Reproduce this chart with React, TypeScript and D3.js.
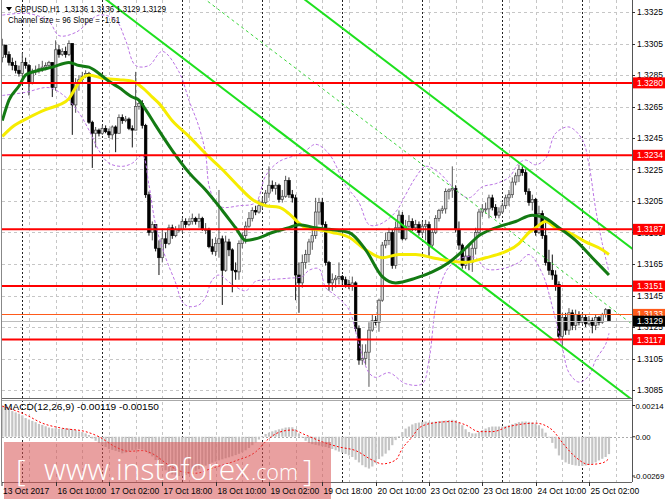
import React from 'react';
import * as d3 from 'd3';

const W = 665;
const H = 499;

// frame of the two panes (pixels)
const PLOT_L = 2;
const AXIS_X = 632;
const MAIN_BOTTOM = 398;
const MACD_TOP = 401;
const MACD_BOTTOM = 482;

const symbolTitle = 'GBPUSD,H1  1.3136 1.3136 1.3129 1.3129';
const channelTitle = 'Channel size = 96 Slope = -1.61';
const macdTitle = 'MACD(12,26,9) -0.00119 -0.00150';

// H1 candles, bar 0 = 13 Oct 18:00 ... bar 182 = 25 Oct 08:00
const firstOpen = 1.3296;
const closes = [
  1.3304, 1.3298, 1.3293, 1.3291, 1.3288, 1.3286, 1.3293, 1.3291, 1.3280, 1.3287,
  1.3288, 1.3289, 1.3290, 1.3291, 1.3293, 1.3277, 1.3301, 1.3298, 1.3300, 1.3298,
  1.3305, 1.3266, 1.3280, 1.3282, 1.3284, 1.3286, 1.3255, 1.3248, 1.3250, 1.3248,
  1.3251, 1.3249, 1.3247, 1.3252, 1.3248, 1.3258, 1.3256, 1.3257, 1.3251, 1.3250,
  1.3265, 1.3267, 1.3253, 1.3209, 1.3185, 1.3190, 1.3175, 1.3169, 1.3181, 1.3178,
  1.3188, 1.3183, 1.3187, 1.3187, 1.3192, 1.3190, 1.3192, 1.3194, 1.3192, 1.3194,
  1.3187, 1.3187, 1.3176, 1.3173, 1.3178, 1.3181, 1.3161, 1.3179, 1.3174, 1.3161,
  1.3160, 1.3178, 1.3183, 1.3189, 1.3194, 1.3199, 1.3198, 1.3202, 1.3204, 1.3210,
  1.3215, 1.3213, 1.3215, 1.3206, 1.3208, 1.3218, 1.3209, 1.3207, 1.3158, 1.3153,
  1.3166, 1.3171, 1.3179, 1.3183, 1.3198, 1.3204, 1.3190, 1.3166, 1.3153, 1.3155,
  1.3156, 1.3157, 1.3155, 1.3152, 1.3151, 1.3153, 1.3124, 1.3104, 1.3105, 1.3109,
  1.3123, 1.3129, 1.3128, 1.3142, 1.3177, 1.3180, 1.3185, 1.3164, 1.3188, 1.3196,
  1.3181, 1.3189, 1.3192, 1.3188, 1.3190, 1.3185, 1.3189, 1.3190, 1.3177, 1.3185,
  1.3194, 1.3199, 1.3200, 1.3211, 1.3212, 1.3213, 1.3187, 1.3177, 1.3164, 1.3170,
  1.3166, 1.3175, 1.3185, 1.3198, 1.3200, 1.3200, 1.3207, 1.3201, 1.3196, 1.3198,
  1.3202, 1.3207, 1.3209, 1.3217, 1.3221, 1.3225, 1.3223, 1.3211, 1.3204, 1.3206,
  1.3185, 1.3197, 1.3183, 1.3166, 1.3161, 1.3158, 1.3152, 1.3119, 1.3131, 1.3123,
  1.3134, 1.3126, 1.3133, 1.3128, 1.3131, 1.3127, 1.3129, 1.3126, 1.3131, 1.3128,
  1.3133, 1.3136, 1.3129,
];
const highs = [
  1.3308, 1.3304, 1.3300, 1.3296, 1.3294, 1.3291, 1.3299, 1.3296, 1.3292, 1.3289,
  1.3291, 1.3292, 1.3294, 1.3293, 1.3294, 1.3293, 1.3307, 1.3304, 1.3302, 1.3303,
  1.3307, 1.3305, 1.3283, 1.3285, 1.3287, 1.3288, 1.3287, 1.3256, 1.3252, 1.3251,
  1.3253, 1.3253, 1.3251, 1.3253, 1.3253, 1.3260, 1.3260, 1.3259, 1.3258, 1.3253,
  1.3287, 1.3269, 1.3269, 1.3254, 1.3211, 1.3192, 1.3190, 1.3180, 1.3187, 1.3185,
  1.3190, 1.3190, 1.3189, 1.3190, 1.3194, 1.3194, 1.3194, 1.3197, 1.3195, 1.3197,
  1.3195, 1.3191, 1.3188, 1.3181, 1.3182, 1.3212, 1.3183, 1.3183, 1.3181, 1.3175,
  1.3166, 1.3180, 1.3185, 1.3192, 1.3198, 1.3201, 1.3202, 1.3206, 1.3207, 1.3212,
  1.3227, 1.3218, 1.3217, 1.3216, 1.3212, 1.3221, 1.3220, 1.3212, 1.3209, 1.3166,
  1.3171, 1.3174, 1.3181, 1.3187, 1.3207, 1.3207, 1.3207, 1.3192, 1.3167, 1.3159,
  1.3158, 1.3166, 1.3158, 1.3157, 1.3155, 1.3157, 1.3154, 1.3126, 1.3114, 1.3114,
  1.3128, 1.3133, 1.3132, 1.3143, 1.3179, 1.3185, 1.3188, 1.3187, 1.3192, 1.3199,
  1.3198, 1.3193, 1.3196, 1.3194, 1.3193, 1.3192, 1.3192, 1.3193, 1.3192, 1.3187,
  1.3196, 1.3200, 1.3202, 1.3213, 1.3213, 1.3227, 1.3215, 1.3192, 1.3178, 1.3174,
  1.3177, 1.3178, 1.3188, 1.3200, 1.3203, 1.3204, 1.3209, 1.3209, 1.3203, 1.3201,
  1.3204, 1.3209, 1.3212, 1.3220, 1.3223, 1.3228, 1.3227, 1.3225, 1.3213, 1.3209,
  1.3207, 1.3202, 1.3199, 1.3193, 1.3174, 1.3171, 1.3161, 1.3154, 1.3134, 1.3134,
  1.3137, 1.3136, 1.3136, 1.3135, 1.3134, 1.3133, 1.3132, 1.3131, 1.3133, 1.3132,
  1.3134, 1.3137, 1.3136,
];
const lows = [
  1.3293, 1.3296, 1.3291, 1.3288, 1.3286, 1.3284, 1.3283, 1.3289, 1.3272, 1.3279,
  1.3285, 1.3286, 1.3287, 1.3288, 1.3289, 1.3271, 1.3275, 1.3296, 1.3297, 1.3296,
  1.3297, 1.3247, 1.3261, 1.3275, 1.3280, 1.3283, 1.3254, 1.3226, 1.3239, 1.3246,
  1.3247, 1.3248, 1.3245, 1.3244, 1.3236, 1.3248, 1.3254, 1.3255, 1.3250, 1.3239,
  1.3250, 1.3263, 1.3251, 1.3207, 1.3183, 1.3180, 1.3173, 1.3158, 1.3166, 1.3175,
  1.3177, 1.3181, 1.3182, 1.3185, 1.3185, 1.3188, 1.3189, 1.3190, 1.3190, 1.3188,
  1.3186, 1.3184, 1.3175, 1.3171, 1.3170, 1.3169, 1.3139, 1.3160, 1.3170, 1.3147,
  1.3155, 1.3155, 1.3175, 1.3178, 1.3188, 1.3192, 1.3196, 1.3197, 1.3200, 1.3202,
  1.3207, 1.3211, 1.3209, 1.3204, 1.3204, 1.3207, 1.3207, 1.3204, 1.3142, 1.3134,
  1.3150, 1.3162, 1.3166, 1.3174, 1.3181, 1.3190, 1.3188, 1.3164, 1.3148, 1.3148,
  1.3150, 1.3152, 1.3151, 1.3150, 1.3149, 1.3148, 1.3122, 1.3101, 1.3101, 1.3101,
  1.3087, 1.3122, 1.3126, 1.3122, 1.3141, 1.3175, 1.3177, 1.3162, 1.3162, 1.3185,
  1.3180, 1.3180, 1.3186, 1.3186, 1.3186, 1.3183, 1.3183, 1.3180, 1.3169, 1.3175,
  1.3184, 1.3192, 1.3197, 1.3197, 1.3206, 1.3207, 1.3185, 1.3174, 1.3162, 1.3162,
  1.3161, 1.3160, 1.3171, 1.3183, 1.3195, 1.3197, 1.3194, 1.3199, 1.3194, 1.3194,
  1.3197, 1.3200, 1.3202, 1.3207, 1.3215, 1.3217, 1.3221, 1.3209, 1.3202, 1.3199,
  1.3183, 1.3184, 1.3181, 1.3164, 1.3158, 1.3155, 1.3148, 1.3117, 1.3112, 1.3120,
  1.3120, 1.3123, 1.3123, 1.3126, 1.3127, 1.3125, 1.3126, 1.3121, 1.3123, 1.3126,
  1.3127, 1.3131, 1.3129,
];

// moving averages and bands, read as [bar, price]
const maGreen: [number, number][] = [
  [0, 1.3256], [2, 1.3269], [5, 1.3278], [7, 1.3285], [11, 1.3288], [15, 1.3290], [20, 1.3293],
  [23, 1.3291], [26, 1.3290], [29, 1.3286], [32, 1.3281], [35, 1.3277], [39, 1.3271], [41, 1.3269],
  [43, 1.3263], [46, 1.3253], [51, 1.3237], [56, 1.3223], [61, 1.3212], [66, 1.3199], [70, 1.3188],
  [73, 1.3180], [76, 1.3181], [81, 1.3185], [86, 1.3188], [89, 1.3190], [94, 1.3188], [98, 1.3187],
  [104, 1.3185], [109, 1.3174], [114, 1.3157], [118, 1.3153], [124, 1.3156], [129, 1.3160],
  [134, 1.3166], [139, 1.3175], [143, 1.3183], [148, 1.3188], [154, 1.3192], [159, 1.3196],
  [162, 1.3195], [167, 1.3188], [172, 1.3180], [177, 1.3169], [182, 1.3158],
];
const maYellow: [number, number][] = [
  [0, 1.3246], [3, 1.3252], [8, 1.3258], [13, 1.3263], [17, 1.3266], [20, 1.3270], [22, 1.3277],
  [24, 1.3283], [26, 1.3285], [30, 1.3283], [35, 1.3282], [39, 1.3281], [42, 1.3277], [45, 1.3271],
  [47, 1.3267], [51, 1.3256], [56, 1.3246], [61, 1.3235], [66, 1.3225], [71, 1.3214], [75, 1.3206],
  [79, 1.3202], [83, 1.3201], [86, 1.3197], [89, 1.3191], [91, 1.3188], [94, 1.3187], [99, 1.3185],
  [104, 1.3182], [109, 1.3174], [114, 1.3169], [119, 1.3171], [124, 1.3171], [129, 1.3169],
  [134, 1.3167], [139, 1.3166], [145, 1.3169], [150, 1.3172], [155, 1.3178], [158, 1.3185],
  [160, 1.3188], [163, 1.3192], [166, 1.3188], [170, 1.3185], [175, 1.3179], [180, 1.3174], [182, 1.3171],
];
const bandUpper: [number, number][] = [
  [0, 1.3323], [8, 1.3324], [14, 1.3319], [17, 1.3310], [22, 1.3312], [29, 1.3323], [34, 1.3320],
  [37, 1.3307], [40, 1.3291], [44, 1.3291], [48, 1.3300], [53, 1.3287], [56, 1.3269], [59, 1.3252],
  [61, 1.3235], [62, 1.3215], [64, 1.3204], [66, 1.3201], [71, 1.3202], [76, 1.3204], [79, 1.3221],
  [83, 1.3230], [88, 1.3234], [91, 1.3237], [94, 1.3241], [98, 1.3235], [103, 1.3215], [107, 1.3204],
  [110, 1.3190], [113, 1.3190], [118, 1.3198], [121, 1.3209], [124, 1.3220], [127, 1.3227],
  [131, 1.3223], [136, 1.3212], [140, 1.3207], [144, 1.3214], [148, 1.3216], [152, 1.3220],
  [155, 1.3229], [157, 1.3231], [160, 1.3228], [163, 1.3232], [166, 1.3248], [170, 1.3252],
  [174, 1.3244], [176, 1.3228], [178, 1.3200], [180, 1.3178], [182, 1.3160],
];
const bandLower: [number, number][] = [
  [0, 1.3272], [7, 1.3274], [14, 1.3277], [19, 1.3271], [23, 1.3261], [26, 1.3250], [29, 1.3237],
  [32, 1.3229], [36, 1.3227], [39, 1.3229], [42, 1.3234], [44, 1.3215], [46, 1.3190], [49, 1.3169],
  [52, 1.3153], [54, 1.3141], [56, 1.3138], [59, 1.3139], [61, 1.3144], [63, 1.3155], [65, 1.3158],
  [69, 1.3152], [73, 1.3148], [76, 1.3154], [80, 1.3155], [86, 1.3156], [90, 1.3157], [92, 1.3161],
  [95, 1.3162], [97, 1.3150], [100, 1.3145], [104, 1.3136], [107, 1.3114], [110, 1.3096],
  [112, 1.3093], [116, 1.3096], [121, 1.3089], [126, 1.3089], [128, 1.3104], [130, 1.3138],
  [132, 1.3155], [134, 1.3163], [138, 1.3169], [142, 1.3169], [145, 1.3162], [150, 1.3162],
  [155, 1.3166], [158, 1.3171], [162, 1.3159], [165, 1.3138], [168, 1.3112], [170, 1.3096],
  [173, 1.3090], [176, 1.3094], [178, 1.3104], [181, 1.3114], [182, 1.3121],
];

// linear regression channel: mid line price at bar 0, slope per bar, half width
const channelMidAtStart = 1.3431;
const channelSlope = -0.000161;
const channelHalf = 0.0048;

const priceTicks = [1.3325, 1.3305, 1.3285, 1.3265, 1.3245, 1.3225, 1.3205, 1.3185, 1.3165, 1.3145, 1.3125, 1.3105, 1.3085];
const levels = [1.328, 1.3234, 1.3187, 1.3151, 1.3117];
const askPrice = 1.3133;
const bidPrice = 1.3129;

const macdHist = [
  0.00214, 0.00204, 0.0019, 0.00176, 0.00167, 0.00158, 0.00146, 0.00128, 0.00118, 0.00109,
  0.001, 0.00088, 0.00081, 0.00072, 0.00063, 0.00058, 0.00058, 0.00053, 0.00056, 0.00058,
  0.00056, 0.00051, 0.00046, 0.00037, 0.00032, 0.00023, 0.00012, -0.00012, -0.00028, -0.00042,
  -0.00058, -0.0007, -0.00084, -0.0009, -0.00097, -0.00104, -0.00114, -0.00109, -0.001, -0.00093,
  -0.0009, -0.00084, -0.00088, -0.00097, -0.00115, -0.00135, -0.0016, -0.00185, -0.0021, -0.0023,
  -0.00246, -0.00258, -0.00265, -0.00269, -0.00268, -0.00262, -0.00254, -0.00244, -0.00233, -0.00222,
  -0.0021, -0.00198, -0.00188, -0.00178, -0.0017, -0.00162, -0.00155, -0.00148, -0.00141, -0.00134,
  -0.00126, -0.00117, -0.00106, -0.00093, -0.00077, -0.00058, -0.00039, -0.00019, 0.00005, 0.00019,
  0.00028, 0.00037, 0.00044, 0.00051, 0.00056, 0.00063, 0.00065, 0.00065, 0.00053, 0.00023,
  -0.00005, -0.00028, -0.00042, -0.00051, -0.00056, -0.0006, -0.00065, -0.0007, -0.00077, -0.00084,
  -0.00093, -0.00102, -0.00109, -0.00118, -0.00128, -0.00139, -0.00158, -0.00176, -0.00195, -0.00209,
  -0.00218, -0.00204, -0.00181, -0.00153, -0.00135, -0.00116, -0.00093, -0.00058, -0.00023, 0.00005,
  0.00032, 0.00056, 0.0007, 0.00084, 0.00093, 0.00097, 0.00102, 0.00104, 0.00102, 0.00102,
  0.00104, 0.00107, 0.00109, 0.00111, 0.00114, 0.00116, 0.00111, 0.00097, 0.00079, 0.00051,
  0.00032, 0.00023, 0.00023, 0.00032, 0.00046, 0.00056, 0.00065, 0.0007, 0.0007, 0.0007,
  0.0007, 0.00074, 0.00079, 0.00086, 0.00093, 0.001, 0.00104, 0.00104, 0.00102, 0.00097,
  0.00088, 0.00079, 0.00056, 0.00028, -0.00005, -0.00042, -0.00081, -0.00128, -0.00158, -0.00176,
  -0.00186, -0.00193, -0.00197, -0.002, -0.002, -0.00197, -0.00193, -0.00186, -0.00176, -0.00162,
  -0.00151, -0.00139, -0.00119,
];
const macdSignal: [number, number][] = [
  [0, 0.00209], [7, 0.00151], [12, 0.00093], [18, 0.00058], [25, 0.00035], [29, 0], [34, -0.0007],
  [38, -0.001], [42, -0.00095], [45, -0.00116], [50, -0.00195], [54, -0.0024], [58, -0.0025],
  [63, -0.00215], [70, -0.00165], [76, -0.00104], [80, -0.00012], [83, 0.0003], [87, 0.00046],
  [91, 0.00012], [96, -0.00035], [101, -0.0007], [106, -0.00095], [111, -0.0016], [114, -0.00186],
  [118, -0.0016], [120, -0.00081], [123, 0], [125, 0.0006], [129, 0.00093], [135, 0.00104],
  [139, 0.00081], [143, 0.00035], [147, 0.00035], [152, 0.0007], [160, 0.00093], [165, 0.00046],
  [168, -0.0004], [172, -0.0014], [176, -0.0019], [180, -0.0018], [182, -0.0015],
];
const macdTicks = [0.00214, 0, -0.00269];
const macdTickLabels = ['0.00214', '0.00', '-0.00269'];

const timeLabels = ['13 Oct 2017', '16 Oct 10:00', '17 Oct 02:00', '17 Oct 18:00', '18 Oct 10:00', '19 Oct 02:00',
  '19 Oct 18:00', '20 Oct 10:00', '23 Oct 02:00', '23 Oct 18:00', '24 Oct 10:00', '25 Oct 02:00'];
const timeLabelBars = [0, 16, 32, 48, 64, 80, 96, 112, 128, 144, 160, 176];
const daySeparatorBars = [6, 30, 54, 78, 102, 126, 150, 174];

const FONT = '"Liberation Sans", Arial, sans-serif';
const WM_FONT = '"Open Sans", Lato, sans-serif';

export default function App() {
  const x = d3.scaleLinear().domain([0, 189]).range([2.3, 632.3]);
  const y = d3.scaleLinear().domain([1.3085, 1.3325]).range([390, 12]);
  const my = d3.scaleLinear().domain([-0.00269, 0.00214]).range([476, 405.5]);

  const priceLine = d3.line<[number, number]>().x((d) => x(d[0])).y((d) => y(d[1])).curve(d3.curveMonotoneX);
  const bandLine = d3.line<[number, number]>().x((d) => x(d[0])).y((d) => y(d[1])).curve(d3.curveCatmullRom);
  const signalLine = d3.line<[number, number]>().x((d) => x(d[0])).y((d) => my(d[1])).curve(d3.curveMonotoneX);

  const gridBars = d3.range(8, 189, 8);
  const bodyW = 2.6;

  const candles = closes.map((c, i) => ({
    i,
    o: i === 0 ? firstOpen : closes[i - 1],
    c,
    h: highs[i],
    l: lows[i],
  }));

  const chan = (bar: number, off: number) => channelMidAtStart + channelSlope * bar + off;
  const chanBars = [-20, 200];

  return (
    <svg width={W} height={H} style={{ position: 'fixed', left: 0, top: 0, background: '#fff' }} fontFamily={FONT}>
      <defs>
        <clipPath id="mainClip">
          <rect x={PLOT_L} y={0} width={AXIS_X - PLOT_L} height={MAIN_BOTTOM} />
        </clipPath>
        <clipPath id="macdClip">
          <rect x={PLOT_L} y={MACD_TOP} width={AXIS_X - PLOT_L} height={MACD_BOTTOM - MACD_TOP} />
        </clipPath>
      </defs>

      {/* grid */}
      {priceTicks.map((t) => (
        <line key={'hg' + t} x1={PLOT_L} x2={AXIS_X} y1={Math.round(y(t)) + 0.5} y2={Math.round(y(t)) + 0.5}
          stroke="#c6c6c6" strokeDasharray="3,3" />
      ))}
      {gridBars.map((b) => (
        <line key={'vg' + b} x1={Math.round(x(b)) + 0.5} x2={Math.round(x(b)) + 0.5} y1={0} y2={MACD_BOTTOM}
          stroke="#c6c6c6" strokeDasharray="3,3" />
      ))}
      {daySeparatorBars.map((b) => (
        <line key={'ds' + b} x1={Math.round(x(b)) + 0.5} x2={Math.round(x(b)) + 0.5} y1={0} y2={MACD_BOTTOM}
          stroke="#222" strokeDasharray="2,2" />
      ))}

      <g clipPath="url(#mainClip)">
        {/* candles */}
        {candles.map((d) => {
          const cx = x(d.i);
          const up = d.c >= d.o;
          const top = y(Math.max(d.o, d.c));
          const bh = Math.max(1, Math.abs(y(d.o) - y(d.c)));
          return (
            <g key={d.i}>
              <line x1={cx} x2={cx} y1={y(d.h)} y2={y(d.l)} stroke={up ? '#555' : '#111'} strokeWidth={1} />
              <rect x={cx - bodyW / 2} y={top} width={bodyW} height={bh}
                fill={up ? '#d6d6d6' : '#000'} stroke={up ? '#444' : '#000'} strokeWidth={0.7} />
            </g>
          );
        })}

        {/* bands */}
        <path d={bandLine(bandUpper) ?? ''} fill="none" stroke="#bb74e4" strokeWidth={1} strokeDasharray="3,2" />
        <path d={bandLine(bandLower) ?? ''} fill="none" stroke="#bb74e4" strokeWidth={1} strokeDasharray="3,2" />

        {/* regression channel */}
        <line x1={x(chanBars[0])} x2={x(chanBars[1])} y1={y(chan(chanBars[0], channelHalf))} y2={y(chan(chanBars[1], channelHalf))}
          stroke="#1ee01e" strokeWidth={2} />
        <line x1={x(chanBars[0])} x2={x(chanBars[1])} y1={y(chan(chanBars[0], 0))} y2={y(chan(chanBars[1], 0))}
          stroke="#3cd63c" strokeWidth={1} strokeDasharray="3,3" />
        <line x1={x(chanBars[0])} x2={x(chanBars[1])} y1={y(chan(chanBars[0], -channelHalf))} y2={y(chan(chanBars[1], -channelHalf))}
          stroke="#1ee01e" strokeWidth={2} />

        {/* moving averages */}
        <path d={priceLine(maYellow) ?? ''} fill="none" stroke="#f6ec00" strokeWidth={3} />
        <path d={priceLine(maGreen) ?? ''} fill="none" stroke="#137a13" strokeWidth={3} />

        {/* levels */}
        {levels.map((l) => (
          <line key={'lv' + l} x1={PLOT_L} x2={AXIS_X} y1={y(l)} y2={y(l)} stroke="#ff0000" strokeWidth={2} />
        ))}
        <line x1={PLOT_L} x2={AXIS_X} y1={Math.round(y(askPrice)) + 0.5} y2={Math.round(y(askPrice)) + 0.5} stroke="#ff5a1a" strokeWidth={1} />
        <line x1={PLOT_L} x2={AXIS_X} y1={Math.round(y(bidPrice)) + 0.5} y2={Math.round(y(bidPrice)) + 0.5} stroke="#bdbdbd" strokeWidth={1} />
      </g>

      {/* MACD pane */}
      <g clipPath="url(#macdClip)">
        <line x1={PLOT_L} x2={AXIS_X} y1={Math.round(my(0)) + 0.5} y2={Math.round(my(0)) + 0.5} stroke="#aaa" strokeDasharray="2,2" />
        {macdHist.map((v, i) => (
          <rect key={'mh' + i} x={x(i) - 1.1} width={2.2} y={Math.min(my(v), my(0))} height={Math.abs(my(v) - my(0))} fill="#c4c4c4" />
        ))}
        <path d={signalLine(macdSignal) ?? ''} fill="none" stroke="#ff0000" strokeWidth={1} strokeDasharray="2,2" />
      </g>

      {/* frames */}
      <line x1={PLOT_L - 0.5} x2={PLOT_L - 0.5} y1={0} y2={MACD_BOTTOM} stroke="#888" />
      <line x1={AXIS_X + 0.5} x2={AXIS_X + 0.5} y1={0} y2={MACD_BOTTOM} stroke="#555" />
      <line x1={PLOT_L} x2={AXIS_X} y1={MAIN_BOTTOM + 0.5} y2={MAIN_BOTTOM + 0.5} stroke="#666" />
      <line x1={PLOT_L} x2={AXIS_X} y1={MACD_TOP - 0.5} y2={MACD_TOP - 0.5} stroke="#aaa" />
      <line x1={PLOT_L} x2={AXIS_X} y1={MACD_BOTTOM + 0.5} y2={MACD_BOTTOM + 0.5} stroke="#666" />

      {/* titles */}
      <polygon points="6,7 12,7 9,11" fill="#000" />
      <text x={15} y={11.5} fontSize={8.6} fill="#000" style={{ whiteSpace: 'pre' }}
        textLength={151} lengthAdjust="spacingAndGlyphs">{symbolTitle}</text>
      <text x={8} y={23} fontSize={9.2} fill="#000" textLength={112} lengthAdjust="spacingAndGlyphs">{channelTitle}</text>
      <text x={4} y={410} fontSize={8.8} fill="#000" textLength={155} lengthAdjust="spacingAndGlyphs">{macdTitle}</text>

      {/* price axis */}
      {priceTicks.map((t) => (
        <g key={'pt' + t}>
          <line x1={AXIS_X} x2={AXIS_X + 3} y1={Math.round(y(t)) + 0.5} y2={Math.round(y(t)) + 0.5} stroke="#333" />
          <text x={637} y={y(t) + 3} fontSize={8.5} fill="#000">{t.toFixed(4)}</text>
        </g>
      ))}
      {levels.map((l) => (
        <g key={'lb' + l}>
          <rect x={633} y={y(l) - 5.5} width={32} height={11} fill="#ff0000" />
          <text x={637} y={y(l) + 3} fontSize={8.5} fill="#fff">{l.toFixed(4)}</text>
        </g>
      ))}
      <rect x={633} y={y(askPrice) - 5.5} width={32} height={11} fill="#ff5a1a" />
      <text x={637} y={y(askPrice) + 3} fontSize={8.5} fill="#fff">{askPrice.toFixed(4)}</text>
      <rect x={633} y={y(bidPrice) - 5} width={32} height={11} fill="#000" />
      <text x={637} y={y(bidPrice) + 3.5} fontSize={8.5} fill="#fff">{bidPrice.toFixed(4)}</text>

      {/* MACD axis */}
      {macdTicks.map((t, k) => (
        <g key={'mt' + k}>
          <line x1={AXIS_X} x2={AXIS_X + 3} y1={my(t)} y2={my(t)} stroke="#333" />
          <text x={k === 2 ? 633.5 : 635.5} y={my(t) + 3} fontSize={7.8} fill="#000">{macdTickLabels[k]}</text>
        </g>
      ))}

      {/* watermark */}
      <rect x={4} y={442} width={327} height={57} fill="#d75252" opacity={0.55} />
      <text x={16} y={481} fontSize={30} fill="#fff" fontWeight={300} fontFamily={WM_FONT}>[</text>
      <text x={44} y={480} fontSize={30} fill="#fff" fontWeight={300} fontFamily={WM_FONT}
        textLength={206} lengthAdjust="spacingAndGlyphs">www.instaforex</text>
      <text x={251} y={480} fontSize={22} fill="#fff" fontWeight={300} fontFamily={WM_FONT}
        textLength={47} lengthAdjust="spacingAndGlyphs">.com</text>
      <text x={303} y={481} fontSize={30} fill="#fff" fontWeight={300} fontFamily={WM_FONT}>]</text>

      {/* time axis */}
      {timeLabelBars.map((b, k) => {
        const tx = k === 0 ? PLOT_L : Math.round(x(b)) + 0.5;
        return (
          <g key={'tl' + k}>
            <line x1={tx} x2={tx} y1={MACD_BOTTOM} y2={MACD_BOTTOM + 4} stroke="#333" />
            <text x={tx + 1} y={494} fontSize={8.5} fill="#000">{timeLabels[k]}</text>
          </g>
        );
      })}
    </svg>
  );
}
